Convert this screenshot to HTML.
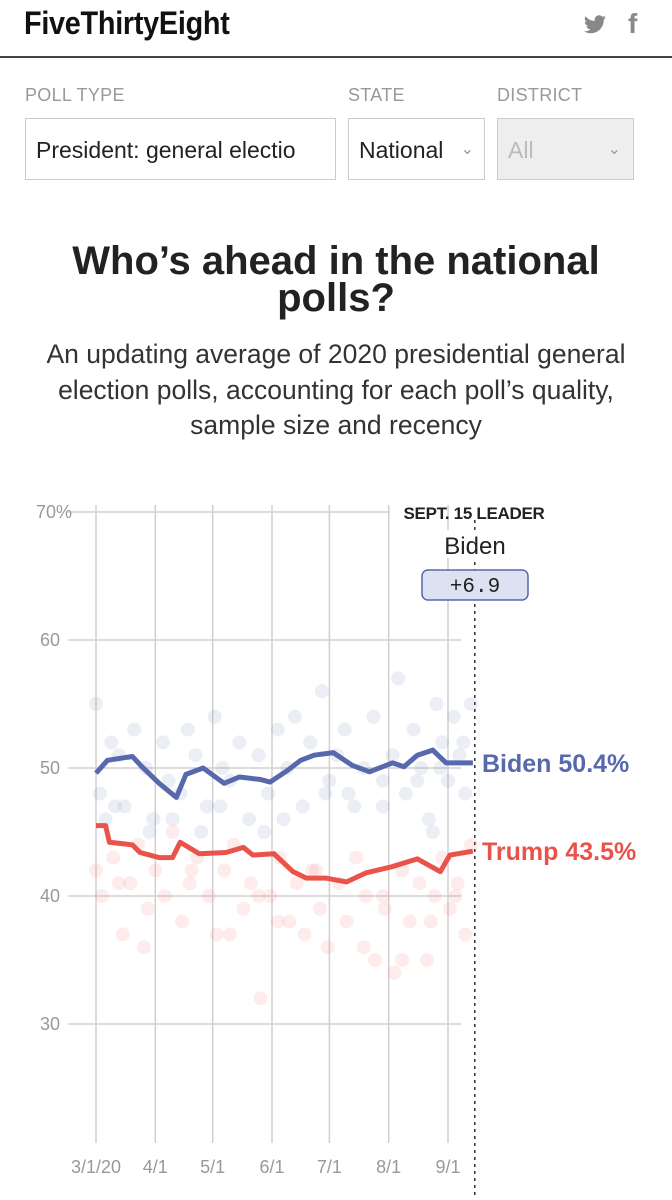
<!DOCTYPE html>
<html><head><meta charset="utf-8">
<style>
html,body{margin:0;padding:0;background:#fff;}
body{width:672px;height:1200px;position:relative;overflow:hidden;font-family:"Liberation Sans",sans-serif;}
.abs{position:absolute;}
.lbl{color:#999;font-size:18px;top:85px;letter-spacing:0.3px;}
.box{top:118px;height:62px;border:1px solid #ccc;box-sizing:border-box;font-size:23px;line-height:62px;padding-left:10px;color:#222;}
</style></head><body>
<div class="abs" style="left:24px;top:5px;font-size:32px;font-weight:bold;letter-spacing:-0.3px;color:#111;transform:scaleX(0.9);transform-origin:left;">FiveThirtyEight</div>
<svg class="abs" style="left:583px;top:14px" width="24" height="22" viewBox="0 0 24 20"><path d="M23 2.5c-.8.4-1.7.6-2.6.7.9-.6 1.6-1.4 2-2.5-.9.5-1.9.9-2.9 1.1A4.5 4.5 0 0 0 11.8 6 12.9 12.9 0 0 1 2.4 1.2a4.5 4.5 0 0 0 1.4 6 4.4 4.4 0 0 1-2-.6v.1a4.5 4.5 0 0 0 3.6 4.4 4.5 4.5 0 0 1-2 .1 4.5 4.5 0 0 0 4.2 3.1A9 9 0 0 1 1 16.2 12.8 12.8 0 0 0 7.9 18.2c8.3 0 12.8-6.9 12.8-12.8v-.6c.9-.6 1.6-1.4 2.3-2.3z" fill="#888"/></svg>
<div class="abs" style="left:628px;top:8px;font-size:28px;font-weight:bold;color:#888;">f</div>
<div class="abs" style="left:0;top:56px;width:672px;height:2px;background:#444;"></div>

<div class="abs lbl" style="left:25px;">POLL TYPE</div>
<div class="abs lbl" style="left:348px;">STATE</div>
<div class="abs lbl" style="left:497px;">DISTRICT</div>
<div class="abs box" style="left:25px;width:311px;overflow:hidden;white-space:nowrap;">President: general electio</div>
<div class="abs box" style="left:348px;width:137px;">National<span style="color:#999;font-size:16px;position:absolute;right:10px;">&#8964;</span></div>
<div class="abs box" style="left:497px;width:137px;background:#eee;color:#bbb;">All<span style="color:#999;font-size:16px;position:absolute;right:12px;">&#8964;</span></div>

<div class="abs" style="left:0;width:672px;top:243px;text-align:center;font-size:40px;font-weight:bold;line-height:37px;color:#222;">Who’s ahead in the national<br>polls?</div>
<div class="abs" style="left:0;width:672px;top:337px;text-align:center;font-size:26.5px;line-height:35.5px;color:#333;">An updating average of 2020 presidential general<br>election polls, accounting for each poll’s quality,<br>sample size and recency</div>

<svg id="chart" class="abs" style="left:0;top:0" width="672" height="1200"></svg>

<script>
const xTickLabels=["3/1/20","4/1","5/1","6/1","7/1","8/1","9/1"];
const xTickDays=[0,31,61,92,122,153,184];
const yTicks=[70,60,50,40,30];
const bidenDays=[0,6,19,24,33,42,47,56,67,75,86,91,100,107,114,124,134,143,155,161,168,176,183,197];
const bidenVals=[49.6,50.6,50.9,50.1,48.8,47.7,49.5,50.0,48.8,49.3,49.1,48.9,49.8,50.6,51.0,51.2,50.2,49.7,50.4,50.1,51.0,51.4,50.4,50.4];
const trumpDays=[0,5,7,19,23,33,40,44,54,68,77,82,93,103,110,120,131,141,155,168,180,185,197];
const trumpVals=[45.5,45.5,44.2,44.0,43.4,43.0,43.0,44.2,43.3,43.4,43.8,43.2,43.3,41.9,41.4,41.4,41.1,41.8,42.3,42.9,41.9,43.2,43.5];
const bidenPollDays=[0,2,8,12,15,20,26,30,35,38,44,48,52,58,62,66,70,75,80,85,90,95,100,104,108,112,118,122,126,130,135,140,145,150,155,158,162,166,170,174,178,181,184,187,190,193,196,5,28,55,88,120,150,176,10,40,65,98,132,168,180,192];
const bidenPollVals=[55,48,52,51,47,53,50,46,52,49,48,53,51,47,54,50,49,52,46,51,48,53,50,54,47,52,56,49,51,53,47,50,54,49,51,57,48,53,50,46,55,52,49,54,51,48,55,46,45,45,45,48,47,45,47,46,47,46,48,49,50,52];
const trumpPollDays=[0,3,9,14,18,22,27,31,36,40,45,49,53,59,63,67,72,77,81,86,91,96,101,105,109,113,117,121,127,131,136,141,146,151,156,160,164,169,173,177,181,185,189,193,196,25,70,95,140,160,12,50,85,115,150,175,188];
const trumpPollVals=[42,40,43,37,41,44,39,42,40,45,38,41,43,40,37,42,44,39,41,32,40,43,38,41,37,42,39,36,41,38,43,40,35,39,34,42,38,41,35,40,43,39,41,37,44,36,37,38,36,35,41,42,40,42,40,38,40];

const svg=document.getElementById('chart');
const NS='http://www.w3.org/2000/svg';
const x=d=>96+d*(352/184);
const y=v=>768-(v-50)*12.8;
function mk(tag,attrs){const e=document.createElementNS(NS,tag);for(const k in attrs)e.setAttribute(k,attrs[k]);svg.appendChild(e);return e;}

xTickDays.forEach((d,i)=>{
  const l=mk('line',{x1:x(d),x2:x(d),y1:505,y2:1143,stroke:'#d0d0d0','stroke-width':1.5});
  
  
  const t=mk('text',{x:x(d),y:1173,'text-anchor':'middle','font-size':18,fill:'#999','font-family':'Liberation Sans, sans-serif'});
  t.textContent=xTickLabels[i];
  
  
});
yTicks.forEach(v=>{
  const l=mk('line',{x1:68,x2:v===70?390:461,y1:y(v),y2:y(v),stroke:'#d0d0d0','stroke-width':1.5});
  
  
  const t=mk('text',{x:v===70?72:60,y:y(v)+6,'text-anchor':'end','font-size':18,fill:'#999','font-family':'Liberation Sans, sans-serif'});
  t.textContent=v===70?'70%':String(v);
  
  
});
trumpPollDays.forEach((d,i)=>{
  const c=mk('circle',{cx:x(d),cy:y(trumpPollVals[i]),r:7,fill:'#f08a82','fill-opacity':0.16});
  
  
});
bidenPollDays.forEach((d,i)=>{
  const c=mk('circle',{cx:x(d),cy:y(bidenPollVals[i]),r:7,fill:'#8b98c9','fill-opacity':0.16});
  
  
});
const dl=mk('line',{x1:x(198),x2:x(198),y1:520,y2:1195,stroke:'#333','stroke-width':1.5,'stroke-dasharray':'3,4'});


const bp=mk('polyline',{points:bidenDays.map((d,i)=>x(d)+','+y(bidenVals[i])).join(' '),fill:'none',stroke:'#5768ac','stroke-width':5,'stroke-linejoin':'round'});


const tp=mk('polyline',{points:trumpDays.map((d,i)=>x(d)+','+y(trumpVals[i])).join(' '),fill:'none',stroke:'#e9534a','stroke-width':5,'stroke-linejoin':'round'});


const bl=mk('text',{x:482,y:y(bidenVals[bidenVals.length-1])+9,'font-size':25,'font-weight':'bold',fill:'#5768ac','font-family':'Liberation Sans, sans-serif'});
bl.textContent='Biden '+bidenVals[bidenVals.length-1].toFixed(1)+'%';


const tl=mk('text',{x:482,y:y(trumpVals[trumpVals.length-1])+9,'font-size':25,'font-weight':'bold',fill:'#e9534a','font-family':'Liberation Sans, sans-serif'});
tl.textContent='Trump '+trumpVals[trumpVals.length-1].toFixed(1)+'%';


const lh=mk('text',{x:474,y:519,'text-anchor':'middle','font-size':17,'font-weight':'bold',fill:'#222','font-family':'Liberation Sans, sans-serif','letter-spacing':'-0.3'});
lh.textContent='SEPT. 15 LEADER';


const ln=mk('rect',{x:440,y:530,width:70,height:28,fill:'#fff'});


const lt=mk('text',{x:475,y:554,'text-anchor':'middle','font-size':24,fill:'#222','font-family':'Liberation Sans, sans-serif'});
lt.textContent='Biden';


const mb=mk('rect',{x:422,y:570,width:106,height:30,rx:6,fill:'#dde2f3',stroke:'#5768ac','stroke-width':1.5});


const mt=mk('text',{x:475,y:592,'text-anchor':'middle','font-size':21,fill:'#222','font-family':'Liberation Mono, monospace'});
mt.textContent='+'+(bidenVals[bidenVals.length-1]-trumpVals[trumpVals.length-1]).toFixed(1);


</script>
</body></html>
